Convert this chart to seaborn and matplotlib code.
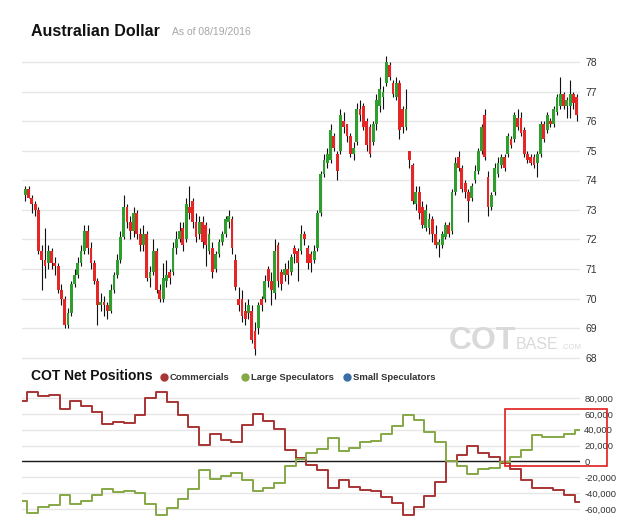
import numpy as np
import pandas as pd
import matplotlib
matplotlib.use("Agg")
import matplotlib.pyplot as plt
import seaborn as sns
from matplotlib.patches import Rectangle
from matplotlib.lines import Line2D

# ---------------- data ----------------
opens = [73.5, 73.7, 73.4, 73.2, 73.0, 71.6, 71.3, 71.2, 71.6, 71.2, 71.1, 70.3, 70.0, 69.1, 69.5, 70.5, 70.8, 71.2, 71.6, 72.3, 71.7, 71.2, 70.6, 69.8, 69.9, 69.8, 69.6, 70.3, 70.8, 71.3, 72.1, 73.1, 72.6, 72.3, 72.9, 72.2, 71.8, 72.2, 70.7, 70.9, 71.6, 70.3, 70.0,
         70.6, 70.9, 70.9, 71.7, 72.0, 72.4, 72.0, 73.1, 73.3, 72.6, 72.2, 72.6, 72.5, 71.6, 71.7, 71.0, 71.5, 71.9, 72.2, 72.6, 72.7, 71.3, 70.0, 70.0, 69.6, 69.5, 69.6, 68.9, 69.0, 70.0, 70.0, 71.0, 70.6, 70.2, 71.8, 70.9, 70.8, 71.0, 70.9,
         71.7, 71.6, 71.6, 72.2, 71.7, 71.5, 71.3, 71.7, 72.9, 74.2, 74.6, 74.7, 75.5, 74.9, 75.0, 76.0, 75.9, 75.5, 74.9, 75.3, 76.4, 76.5, 76.0, 75.8, 75.3, 75.9, 76.5, 76.8, 77.3, 77.9, 77.3, 76.8, 77.3, 76.4, 75.8, 75.0, 74.5, 73.2, 73.6, 73.1, 72.4,
         72.4, 72.7, 72.2, 71.8, 71.8, 72.1, 72.5, 72.3, 73.6, 74.8, 74.4, 73.9, 73.6, 73.4, 74.0, 74.3, 75.0, 76.2, 74.1, 73.1, 73.6, 74.2, 74.5, 74.8, 74.9, 75.4, 75.4, 76.1, 76.1, 75.7, 74.9, 74.8, 74.8, 74.6, 74.9, 75.9, 75.7, 76.0, 75.9, 76.3, 76.5, 76.9, 76.5, 76.5, 76.9, 76.8]
closes = [73.7, 73.4, 73.2, 73.0, 71.6, 71.3, 71.1, 71.6, 71.2, 71.1, 70.3, 70.0, 69.1, 69.5, 70.5, 70.8, 71.2, 71.6, 72.3, 71.7, 71.2, 70.6, 69.8, 69.9, 69.8, 69.6, 70.3, 70.8, 71.3, 72.1, 73.1, 72.6, 72.3, 72.9, 72.2, 71.8, 72.2, 70.7, 70.9, 71.6, 70.3, 70.0, 70.7,
          70.8, 70.7, 71.7, 72.0, 72.3, 71.8, 73.2, 72.9, 72.6, 72.1, 72.6, 71.9, 71.8, 72.2, 70.9, 71.5, 71.9, 72.2, 72.7, 72.8, 71.7, 70.4, 69.8, 69.4, 69.3, 69.8, 68.6, 68.3, 69.8, 69.8, 70.6, 70.6, 70.3, 71.6, 70.6, 70.5, 71.0, 70.8, 71.4,
          71.5, 71.2, 72.2, 72.0, 71.2, 71.2, 71.6, 72.9, 74.2, 74.7, 74.9, 75.7, 75.1, 74.3, 76.2, 75.8, 75.5, 74.9, 75.1, 76.4, 76.2, 75.8, 75.2, 74.9, 75.9, 76.7, 77.1, 77.0, 78.0, 77.5, 76.9, 77.3, 75.7, 75.8, 76.4, 74.7, 73.3, 73.6, 72.9, 72.5, 73.0,
          72.7, 72.2, 71.8, 71.9, 72.2, 72.5, 72.2, 73.6, 74.6, 74.4, 73.7, 73.6, 73.3, 73.8, 74.3, 75.0, 75.8, 74.8, 73.1, 73.5, 74.4, 74.6, 74.8, 74.4, 75.5, 75.2, 76.2, 75.8, 75.6, 74.9, 74.7, 74.6, 74.5, 74.9, 75.9, 75.4, 76.2, 75.9, 76.4, 76.8, 76.9, 76.5, 76.7, 76.9, 76.6, 76.2]
highs = [73.8, 73.8, 73.5, 73.3, 73.1, 71.8, 72.4, 71.8, 71.7, 71.4, 71.2, 70.5, 70.1, 69.7, 70.6, 71.0, 71.4, 71.8, 72.5, 72.5, 71.9, 71.3, 70.7, 70.2, 70.1, 69.9, 70.5, 70.9, 71.5, 72.3, 73.5, 73.2, 72.8, 73.1, 73.0, 72.4, 72.5, 72.3, 71.1, 72.0, 71.7, 70.5, 71.2,
         71.3, 71.0, 71.9, 72.3, 72.6, 72.6, 73.4, 73.8, 73.4, 72.9, 72.8, 72.8, 72.6, 72.4, 71.9, 71.6, 72.0, 72.3, 72.8, 73.0, 72.8, 71.5, 70.4, 70.3, 69.9, 70.0, 69.8, 69.2, 69.9, 70.1, 70.8, 71.1, 70.9, 72.0, 71.9, 71.0, 71.2, 71.3, 71.5,
         71.8, 71.7, 72.5, 72.3, 71.8, 71.6, 71.8, 73.0, 74.3, 74.9, 75.1, 75.9, 75.6, 75.0, 76.4, 76.3, 75.9, 75.6, 75.3, 76.6, 76.7, 76.6, 76.1, 75.9, 76.0, 76.9, 77.5, 77.2, 78.2, 78.0, 77.4, 77.5, 77.4, 76.5, 77.1, 75.0, 74.6, 73.8, 73.8, 73.3, 73.2,
         72.9, 72.8, 72.5, 72.0, 72.3, 72.6, 72.6, 73.7, 74.8, 75.0, 74.5, 74.0, 73.7, 73.9, 74.5, 75.1, 75.9, 76.4, 74.3, 73.6, 74.6, 74.8, 74.9, 74.9, 75.6, 75.5, 76.3, 76.4, 76.3, 75.8, 75.0, 74.9, 74.9, 75.0, 76.0, 76.0, 76.3, 76.1, 76.5, 76.9, 77.5, 77.0, 76.8, 77.4, 77.0, 76.9]
lows = [73.3, 73.4, 72.9, 72.8, 71.5, 70.3, 70.7, 71.0, 71.0, 70.8, 70.2, 69.8, 69.0, 69.0, 69.4, 70.4, 70.7, 71.1, 71.5, 71.5, 71.0, 70.5, 69.1, 69.6, 69.4, 69.3, 69.5, 70.2, 70.7, 71.2, 72.0, 72.4, 72.0, 72.1, 72.0, 71.6, 71.6, 70.6, 70.4, 70.8, 70.2, 69.9, 69.9,
        70.4, 70.5, 70.8, 71.5, 71.9, 71.6, 71.9, 72.7, 72.4, 71.9, 72.0, 71.7, 71.1, 71.5, 70.7, 70.9, 71.4, 71.8, 72.1, 72.4, 71.5, 70.3, 69.6, 69.2, 69.1, 69.3, 68.5, 68.1, 68.8, 69.6, 69.9, 70.4, 69.8, 70.0, 70.4, 70.3, 70.6, 70.5, 70.8,
        71.2, 70.6, 71.5, 71.8, 71.0, 70.9, 71.2, 71.6, 72.8, 74.1, 74.4, 74.6, 75.0, 74.0, 74.9, 75.6, 75.3, 74.8, 74.7, 75.2, 76.0, 75.7, 75.0, 74.8, 75.2, 75.7, 76.3, 76.4, 77.2, 77.4, 76.8, 76.7, 75.4, 75.6, 75.7, 74.4, 73.2, 73.0, 72.7, 72.4, 72.3,
        72.2, 71.9, 71.7, 71.4, 71.7, 72.0, 72.1, 72.2, 73.5, 74.3, 73.6, 73.4, 72.6, 73.3, 73.9, 74.2, 74.9, 74.7, 72.8, 73.0, 73.5, 74.1, 74.4, 74.3, 74.8, 75.1, 75.3, 75.7, 75.5, 74.8, 74.6, 74.5, 74.4, 74.1, 74.8, 75.3, 75.6, 75.8, 75.8, 76.2, 76.4, 76.4, 76.1, 76.1, 76.4, 76.0]

# COT weekly net positions (thousands of contracts)
commercials = [76, 88, 83, 84, 66, 76, 70, 62, 47, 50, 48, 59, 80, 88, 75, 59, 43, 21, 34, 27,
               25, 46, 60, 51, 41, 14, 4, -5, -11, -34, -23, -32, -36, -37, -45, -53, -68, -58, -43, -26,
               0, 8, 19, 10, 5, -2, -9, -24, -34, -34, -36, -42, -51]
large_specs = [-50, -65, -57, -55, -42, -54, -50, -42, -35, -39, -37, -40, -54, -67, -59, -48, -35, -11, -22, -19,
               -15, -24, -37, -34, -27, -6, 3, 10, 16, 29, 13, 17, 24, 26, 35, 45, 59, 52, 37, 24,
               0, -6, -16, -9, -8, -1, 5, 15, 33, 31, 31, 35, 40]
price_ticks = [68, 69, 70, 71, 72, 73, 74, 75, 76, 77, 78]
cot_ticks = [-60000, -40000, -20000, 0, 20000, 40000, 60000, 80000]
legend_names = ["Commercials", "Large Speculators", "Small Speculators"]

# ---------------- style ----------------
sns.set_theme(style="white")
plt.rcParams["font.family"] = ["Liberation Sans", "DejaVu Sans"]

W, H = 625, 526
fig = plt.figure(figsize=(W / 100, H / 100), dpi=100)
fig.patch.set_facecolor("white")


def fx(x):
    return x / W


def fy(y):
    return 1 - y / H


def rect(x0, y0, x1, y1):
    return [fx(x0), fy(y1), (x1 - x0) / W, (y1 - y0) / H]


GRID = "#e6e6e6"
UP = "#2f9e2f"
DOWN = "#e52626"

# ---------------- price panel ----------------
ax1 = fig.add_axes(rect(22, 48, 580, 362))
o = np.array(opens); c = np.array(closes); hi = np.array(highs); lo = np.array(lows)
idx = np.arange(len(c))
body_bottom = np.minimum(o, c)
body_h = np.maximum(np.abs(c - o), 0.06)
cols = [UP if cc >= oo else DOWN for oo, cc in zip(o, c)]
ax1.vlines(idx, lo, hi, color="#111111", lw=0.8, zorder=2)
ax1.bar(idx, body_h, bottom=body_bottom, width=0.85, color=cols, linewidth=0, zorder=3)
ax1.set_xlim(-1.0, len(c))
ax1.set_ylim(67.86, 78.47)
ax1.set_yticks(price_ticks)
ax1.set_yticklabels([str(t) for t in price_ticks])
ax1.yaxis.tick_right()
ax1.tick_params(axis="y", length=0, pad=4, labelsize=7.5, labelcolor="#333333")
ax1.set_xticks([])
ax1.grid(axis="y", color=GRID, lw=1)
ax1.set_axisbelow(True)
for s in ax1.spines.values():
    s.set_visible(False)

# ---------------- COT panel ----------------
ax2 = fig.add_axes(rect(22, 388, 580, 520))
weeks = np.arange(len(commercials))
df = pd.DataFrame({
    "week": np.concatenate([weeks, weeks]),
    "net": np.array(commercials + large_specs) * 1000,
    "group": ["Commercials"] * len(commercials) + ["Large Speculators"] * len(large_specs),
})
sns.lineplot(data=df, x="week", y="net", hue="group",
             palette={"Commercials": "#a83434", "Large Speculators": "#86a845"},
             drawstyle="steps-mid", lw=1.4, legend=False, ax=ax2, zorder=3)
ax2.axhline(0, color="#1a1a1a", lw=1.0, zorder=2)
ax2.set_xlim(0, len(commercials) - 1)
ax2.set_ylim(-73900, 92600)
ax2.set_yticks(cot_ticks)
ax2.set_yticklabels([f"{t:,}" for t in cot_ticks])
ax2.yaxis.tick_right()
ax2.tick_params(axis="y", length=0, pad=3, labelsize=6.8, labelcolor="#333333")
ax2.set_xticks([])
ax2.set_xlabel("")
ax2.set_ylabel("")
ax2.grid(axis="y", color=GRID, lw=1)
ax2.set_axisbelow(True)
for s in ax2.spines.values():
    s.set_visible(False)

# ---------------- texts ----------------
fig.text(fx(31), fy(36), "Australian Dollar", fontsize=11.5, fontweight="bold", color="#111111", va="baseline")
fig.text(fx(172), fy(35), "As of 08/19/2016", fontsize=7.5, color="#a6a6a6", va="baseline")
fig.text(fx(31), fy(380), "COT Net Positions", fontsize=10, fontweight="bold", color="#111111", va="baseline")

leg_x = [164, 245, 347]
leg_c = ["#a83434", "#86a845", "#3b6ea8"]
for xx, name, col in zip(leg_x, legend_names, leg_c):
    fig.add_artist(Line2D([fx(xx)], [fy(377)], marker="o", markersize=5, color=col,
                          linestyle="none", transform=fig.transFigure))
    fig.text(fx(xx + 6), fy(380), name, fontsize=6.8, fontweight="bold", color="#333333", va="baseline")

# watermark
fig.text(fx(449), fy(349), "COT", fontsize=23, fontweight="bold", color="#d9d9d9", va="baseline")
fig.text(fx(516), fy(349), "BASE", fontsize=11.5, color="#d9d9d9", va="baseline")
fig.text(fx(561), fy(349), ".COM", fontsize=5.5, color="#d9d9d9", va="baseline")

# highlight box
fig.add_artist(Rectangle((fx(505), fy(466)), 102 / W, 57 / H, transform=fig.transFigure,
                         fill=False, edgecolor="#e21b1b", lw=1.2))

fig.savefig("out.png", dpi=100, facecolor="white")
